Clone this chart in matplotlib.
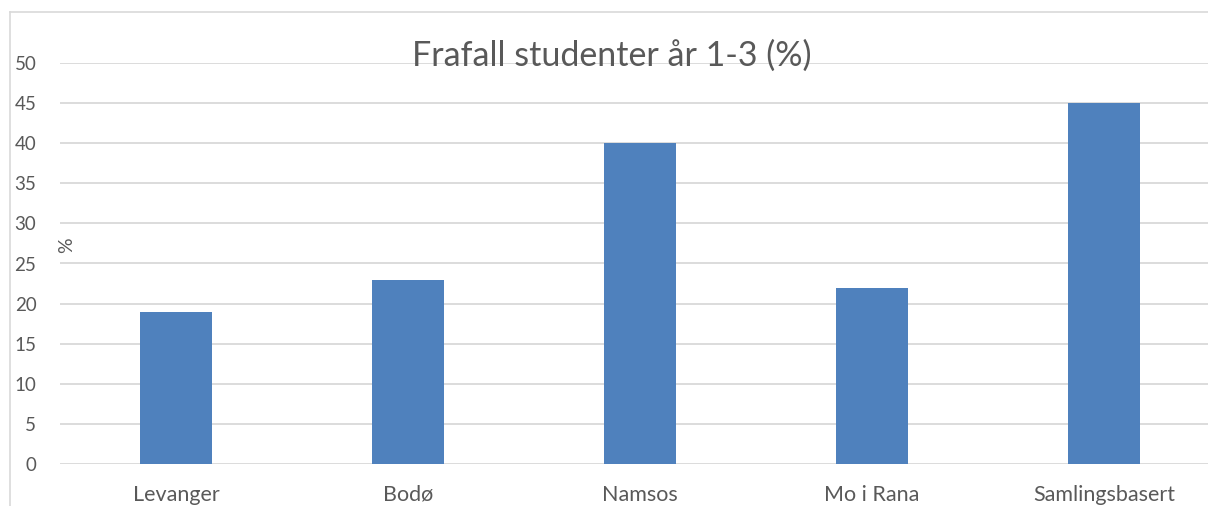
import matplotlib.pyplot as plt
from matplotlib.lines import Line2D

# Frafall per studiested
steder = ['Levanger', 'Bodø', 'Namsos', 'Mo i Rana', 'Samlingsbasert']
frafall = [19, 23, 40, 22, 45]
y_ticks = [0, 5, 10, 15, 20, 25, 30, 35, 40, 45, 50]

plt.rcParams['font.family'] = ['Lato', 'DejaVu Sans']

W, H = 1208, 506
# litt ekstra hoyde slik at avrundingen gir 506 piksler
fig = plt.figure(figsize=(W / 100, (H + 0.01) / 100), dpi=100)

# ramme rundt diagramomraadet: bare topp og venstre kant er synlige
x0, y0 = 9.5 / W, 1 - 12.5 / H
fig.add_artist(Line2D([x0, 1], [y0, y0], transform=fig.transFigure,
                      color='#d9d9d9', linewidth=1.2))
fig.add_artist(Line2D([x0, x0], [0, y0], transform=fig.transFigure,
                      color='#d9d9d9', linewidth=1.2))

ax = fig.add_axes([60 / W, 42 / H, 1160 / W, 401 / H])
ax.bar(range(len(steder)), frafall, width=0.31, color='#4f81bd', zorder=3)
ax.set_xlim(-0.5, len(steder) - 0.5)
ax.set_ylim(0, 50)
ax.set_yticks(y_ticks)
ax.set_xticks(range(len(steder)))
ax.set_xticklabels(steder)
ax.grid(axis='y', color='#d9d9d9', linewidth=1.3, zorder=0)
for s in ax.spines.values():
    s.set_visible(False)
ax.tick_params(axis='both', length=0, labelcolor='#595959')
ax.tick_params(axis='y', pad=17, labelsize=13.5)
ax.tick_params(axis='x', pad=15, labelsize=15.5)
ax.set_facecolor('none')

fig.text(67 / W, 1 - 245 / H, '%', rotation=90, fontsize=14, color='#595959',
         ha='center', va='center')
fig.text(612 / W, 1 - 56 / H, 'Frafall studenter år 1-3 (%)', fontsize=24.5,
         color='#595959', ha='center', va='center')

fig.savefig('out.png', dpi=100)
